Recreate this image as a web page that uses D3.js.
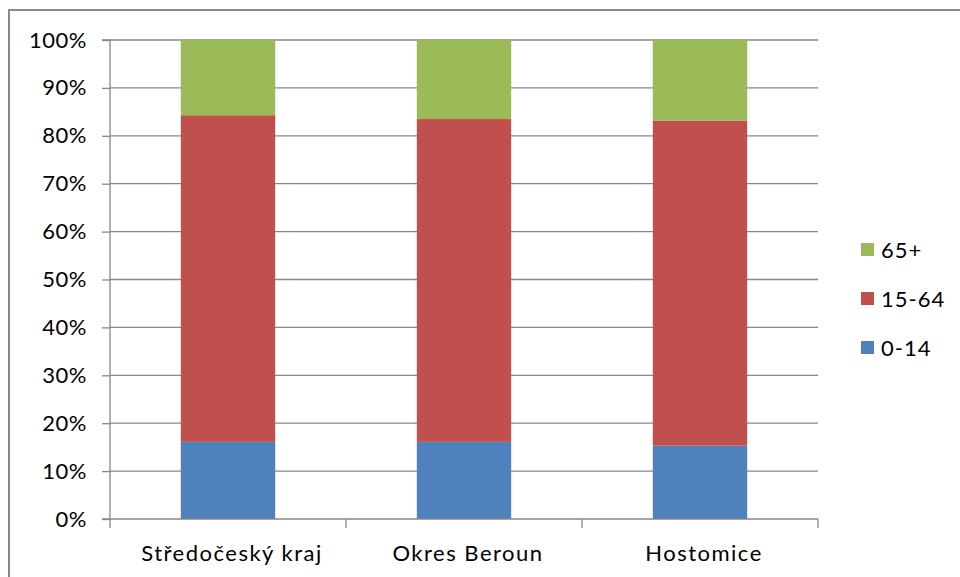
<!DOCTYPE html>
<html><head><meta charset="utf-8">
<script src="https://cdn.jsdelivr.net/npm/d3@7"></script>
<style>body{margin:0;background:#fff}svg{display:block}</style>
</head><body>
<svg id="c" width="960" height="577"></svg>
<script>
const categories = ["Středočeský kraj", "Okres Beroun", "Hostomice"];
const seriesNames = ["0-14", "15-64", "65+"];
const age0_14 = [16.1, 16.1, 15.3];
const age15_64 = [68.2, 67.4, 67.9];
const age65 = [15.7, 16.5, 16.8];
const colors = ["#4f81bd", "#c0504d", "#9bbb59"];
const yTicks = [0,10,20,30,40,50,60,70,80,90,100];

const svg = d3.select("#c");
const font = "Lato, 'Open Sans', sans-serif";
const L = 110, R = 818, T = 40, B = 519;

svg.append("rect").attr("x",9).attr("y",10).attr("width",980).attr("height",600)
  .attr("fill","none").attr("stroke","#898989").attr("stroke-width",2);

const x = d3.scaleBand().domain(categories).range([L,R]).paddingInner(0.6).paddingOuter(0.3);
const y = d3.scaleLinear().domain([0,100]).range([B,T]);

// gridlines
svg.append("g").selectAll("line").data(yTicks.slice(1)).join("line")
  .attr("x1",L).attr("x2",R).attr("y1",d=>y(d)).attr("y2",d=>y(d))
  .attr("stroke","#878787").attr("stroke-width",1.3);

const rows = categories.map((c,i)=>({cat:c,"0-14":age0_14[i],"15-64":age15_64[i],"65+":age65[i]}));
const stack = d3.stack().keys(seriesNames)(rows);
svg.append("g").selectAll("g").data(stack).join("g").attr("fill",(d,i)=>colors[i])
  .selectAll("rect").data(d=>d).join("rect")
  .attr("x",d=>x(d.data.cat)).attr("width",x.bandwidth())
  .attr("y",d=>y(d[1])).attr("height",d=>y(d[0])-y(d[1]));

// y axis
const ya = d3.axisLeft(y).tickValues(yTicks).tickFormat(d=>d+"%").tickSize(8).tickPadding(6);
const gy = svg.append("g").attr("transform",`translate(${L},0)`).call(ya);
gy.select(".domain").attr("stroke","#878787").attr("stroke-width",1.3).attr("d",`M-8,${T}H0V${B}H-8`);
gy.selectAll(".tick line").attr("stroke","#878787").attr("stroke-width",1.3);
gy.selectAll("text").attr("font-family",font).attr("font-size",22).attr("letter-spacing",0.5)
  .attr("fill","#000").attr("dx",-9);

// x axis
const xb = d3.scaleLinear().domain([0,3]).range([L,R]);
const gx = svg.append("g");
gx.append("line").attr("x1",L).attr("x2",R).attr("y1",B).attr("y2",B).attr("stroke","#878787").attr("stroke-width",1.3);
gx.selectAll("line.t").data([0,1,2,3]).join("line").attr("class","t")
  .attr("x1",d=>xb(d)).attr("x2",d=>xb(d)).attr("y1",B).attr("y2",B+9)
  .attr("stroke","#878787").attr("stroke-width",1.3);
gx.selectAll("text").data(categories).join("text")
  .attr("x",d=>x(d)+x.bandwidth()/2+4).attr("y",561).attr("text-anchor","middle")
  .attr("font-family",font).attr("font-size",22).attr("letter-spacing",1.5)
  .attr("fill","#000").text(d=>d);

// legend
const leg = svg.append("g");
const legItems = seriesNames.slice().reverse();
leg.selectAll("rect").data(legItems).join("rect")
  .attr("x",861).attr("y",(d,i)=>243+i*49).attr("width",13).attr("height",13)
  .attr("fill",d=>colors[seriesNames.indexOf(d)]);
leg.selectAll("text").data(legItems).join("text")
  .attr("x",881).attr("y",(d,i)=>258+i*49)
  .attr("font-family",font).attr("font-size",22).attr("letter-spacing",1)
  .attr("fill","#000").text(d=>d);
</script>
</body></html>
